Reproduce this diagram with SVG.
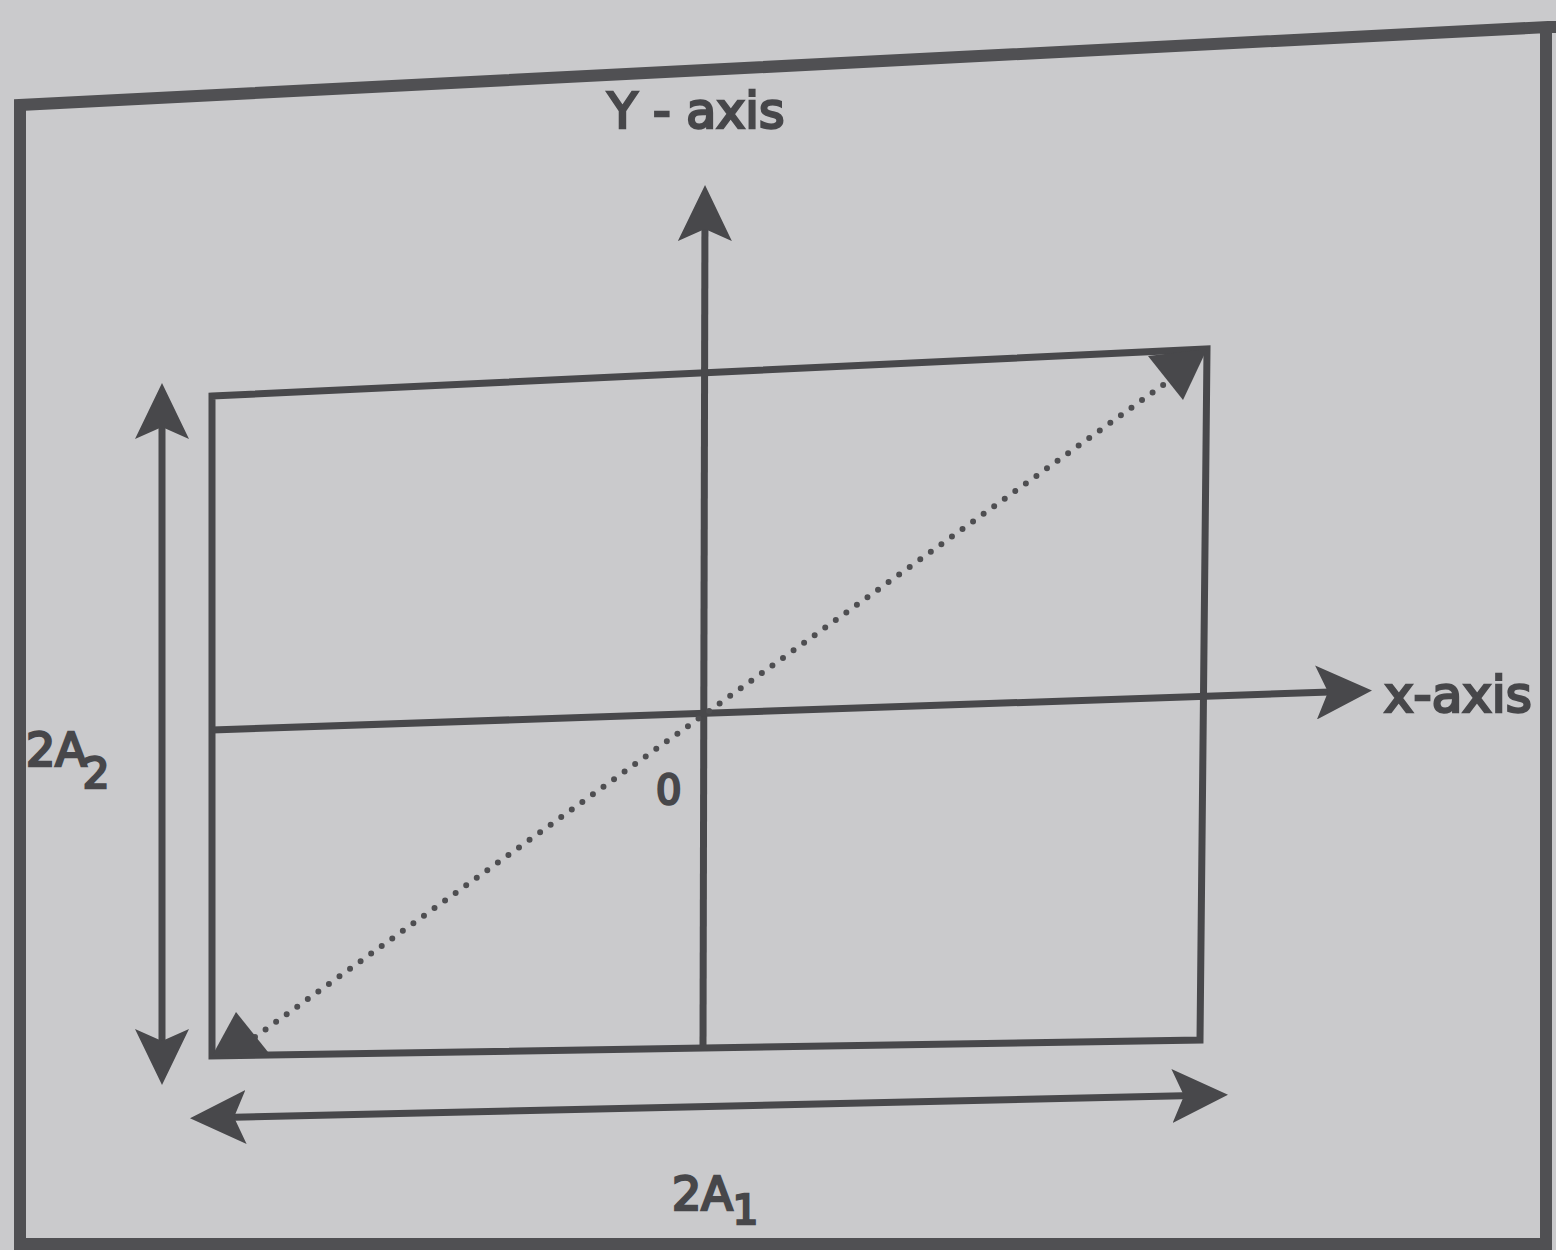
<svg xmlns="http://www.w3.org/2000/svg" width="1556" height="1250" viewBox="0 0 1556 1250">
<defs>
<marker id="ah" viewBox="0 0 56 54" refX="44" refY="27" markerWidth="56" markerHeight="54" markerUnits="userSpaceOnUse" orient="auto-start-reverse">
<path d="M0,0 L56,27 L0,54 L12,27 Z" fill="#48484b"/>
</marker>
</defs>
<style>
.ln{stroke:#48484b;stroke-width:7;fill:none;stroke-linecap:square}
.ax{stroke:#48484b;stroke-width:7;fill:none;stroke-linecap:butt}
.frame{stroke:#505053;stroke-width:12;fill:none}
.dot{stroke:#4e4e51;stroke-width:6;stroke-linecap:round;stroke-dasharray:0 13;fill:none}
.t{font-family:"DejaVu Sans",Verdana,sans-serif;fill:#47474a;stroke:#47474a;stroke-width:2.6}
</style>
<rect width="1556" height="1250" fill="#cacacc"/>
<g id="frame">
<path class="frame" d="M1556,27 L1548,27 L20,105 L20,1244 L1546,1244 L1546,27"/>
</g>
<g id="box">
<polygon class="ln" points="212,396 1207,349 1200,1040 212,1056"/>
</g>
<g id="connectors">
<line class="ax" x1="703" y1="1050" x2="705" y2="197" marker-end="url(#ah)"/>
<line class="ax" x1="212" y1="730" x2="1360" y2="691" marker-end="url(#ah)"/>
<line class="ax" x1="162" y1="395" x2="162" y2="1073" marker-start="url(#ah)" marker-end="url(#ah)"/>
<line class="ax" x1="202" y1="1118" x2="1216" y2="1095" marker-start="url(#ah)" marker-end="url(#ah)"/>
<line class="dot" x1="255" y1="1037" x2="1170" y2="380"/>
<path d="M1207,349 L1148,356 L1183,400 Z" fill="#48484b"/>
<path d="M212,1056 L268,1052 L236,1012 Z" fill="#48484b"/>
</g>
<g id="labels">
<text class="t" x="696" y="128" font-size="49" text-anchor="middle">Y - axis</text>
<text class="t" x="1384" y="712" font-size="50">x-axis</text>
<text class="t" x="26" y="766" font-size="46">2A<tspan font-size="42" dy="22" dx="-4">2</tspan></text>
<text class="t" x="656" y="804" font-size="40">0</text>
<text class="t" x="672" y="1210" font-size="46">2A<tspan font-size="40" dy="14">1</tspan></text>
</g>
</svg>
